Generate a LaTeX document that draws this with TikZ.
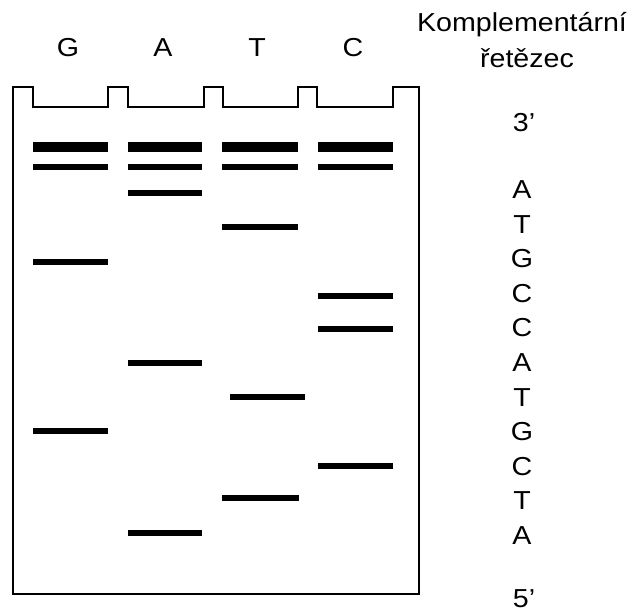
\documentclass[tikz,border=0pt]{standalone}
\usepackage{fontspec}
\newfontfamily\lblfont{Liberation Sans}[FakeStretch=1.1]
\begin{document}
\begin{tikzpicture}[x=1pt,y=-1pt,
  gel/.style={line width=2pt,line join=miter},
  thickband/.style={line width=10pt},
  band/.style={line width=6pt},
  lbl/.style={font=\lblfont\fontsize{26}{30}\selectfont,anchor=base,inner sep=0pt}]
\useasboundingbox (0,0) rectangle (632,612);
% gel outline with four wells
\draw[gel] (13,594) -- (13,87) -- (33,87) -- (33,107) -- (108,107) -- (108,87)
  -- (128,87) -- (128,107) -- (204,107) -- (204,87) -- (223,87) -- (223,107)
  -- (298,107) -- (298,87) -- (317,87) -- (317,107) -- (393,107) -- (393,87)
  -- (419,87) -- (419,594) -- cycle;
% lane labels
\node[lbl] (lG) at (68,57) {G};
\node[lbl] (lA) at (163,57) {A};
\node[lbl] (lT) at (257,57) {T};
\node[lbl] (lC) at (353,57) {C};
% heading of the complementary strand
\node[lbl] (h1) at (522,32) {Komplementární};
\node[lbl] (h2) at (527,68) {řetězec};
\node[lbl] (e3) at (524,132) {3’};
\node[lbl] (e5) at (524,607) {5’};
% top bands in every lane
\foreach \a/\b in {33/108,128/202,222/298,318/393}{
  \draw[thickband] (\a,147) -- (\b,147);
  \draw[band] (\a,167) -- (\b,167);
}
% sequence bands
\draw[band] (128,193) -- (202,193);
\draw[band] (222,227) -- (298,227);
\draw[band] (33,262) -- (108,262);
\draw[band] (318,296) -- (393,296);
\draw[band] (318,329) -- (393,329);
\draw[band] (128,363) -- (202,363);
\draw[band] (230,397) -- (305,397);
\draw[band] (33,431) -- (108,431);
\draw[band] (318,466) -- (393,466);
\draw[band] (222,498) -- (299,498);
\draw[band] (128,533) -- (202,533);
% complementary sequence read from the gel
\node[lbl] (s1) at (522,199) {A};
\node[lbl] (s2) at (522,233.5) {T};
\node[lbl] (s3) at (522,268) {G};
\node[lbl] (s4) at (522,302.5) {C};
\node[lbl] (s5) at (522,337) {C};
\node[lbl] (s6) at (522,371.5) {A};
\node[lbl] (s7) at (522,406) {T};
\node[lbl] (s8) at (522,440.5) {G};
\node[lbl] (s9) at (522,475) {C};
\node[lbl] (s10) at (522,509.5) {T};
\node[lbl] (s11) at (522,544) {A};
\end{tikzpicture}
\end{document}
